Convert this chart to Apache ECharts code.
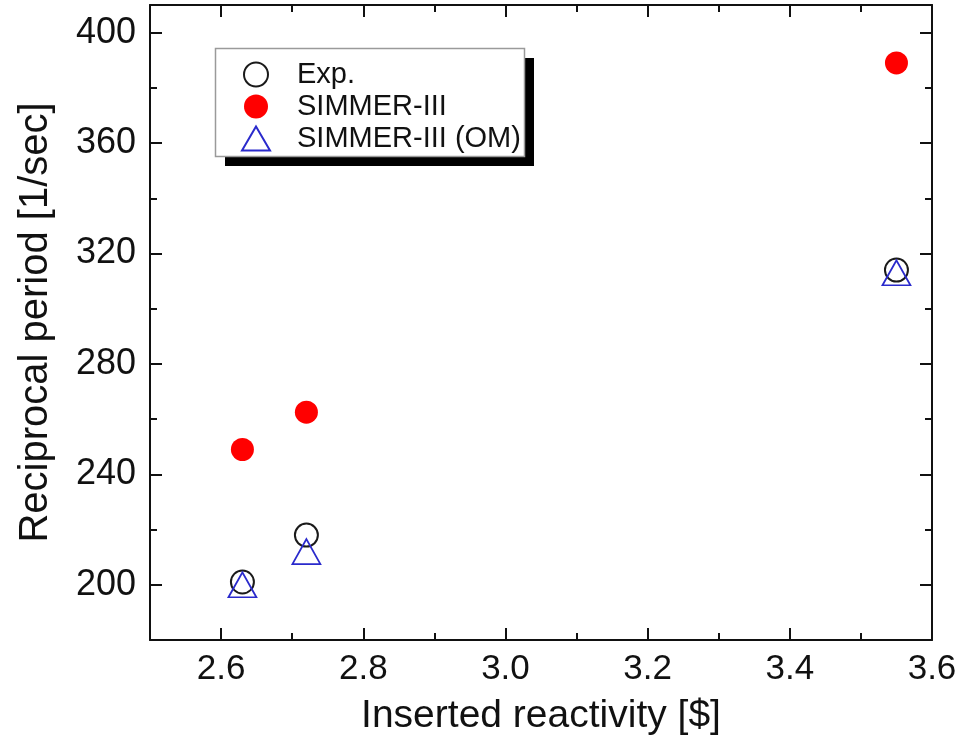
<!DOCTYPE html>
<html>
<head>
<meta charset="utf-8">
<script src="https://cdn.jsdelivr.net/npm/echarts@6/dist/echarts.min.js"></script>
<style>
html,body{margin:0;padding:0;background:#fff;}
#chart{width:972px;height:741px;}
</style>
</head>
<body>
<div id="chart"></div>
<script>
// ---- data ----
const reactivity = [2.63, 2.72, 3.55];
const expValues = [201, 218, 314];
const simmerValues = [249, 262.5, 389];
const omValues = [200, 212, 313];
const seriesNames = ['Exp.', 'SIMMER-III', 'SIMMER-III (OM)'];
const xTickValues = [2.6, 2.8, 3.0, 3.2, 3.4, 3.6];
const xMinorValues = [2.7, 2.9, 3.1, 3.3, 3.5];
const yTickValues = [200, 240, 280, 320, 360, 400];
const yMinorValues = [220, 260, 300, 340, 380];
const xTitle = 'Inserted reactivity [$]';
const yTitle = 'Reciprocal period [1/sec]';

const FONT = '"Liberation Sans", Arial, sans-serif';
const X_MIN = 2.5, X_MAX = 3.6, Y_MIN = 180, Y_MAX = 410;

function pairs(xs, ys) { return xs.map((x, i) => [x, ys[i]]); }

const lineStyle = { color: '#111', width: 2 };

function xAxisDef(pos, values, len, opts) {
  return Object.assign({
    type: 'value', position: pos, min: X_MIN, max: X_MAX,
    splitLine: { show: false },
    axisLine: { show: false, lineStyle: lineStyle },
    axisTick: { show: true, inside: true, length: len, customValues: values, lineStyle: { color: '#111', width: 2 } },
    axisLabel: { show: false }
  }, opts || {});
}
function yAxisDef(pos, values, len, opts) {
  return Object.assign({
    type: 'value', position: pos, min: Y_MIN, max: Y_MAX,
    splitLine: { show: false },
    axisLine: { show: false, lineStyle: lineStyle },
    axisTick: { show: true, inside: true, length: len, customValues: values, lineStyle: { color: '#111', width: 2 } },
    axisLabel: { show: false }
  }, opts || {});
}

const chart = echarts.init(document.getElementById('chart'));
chart.setOption({
  animation: false,
  backgroundColor: '#fff',
  grid: { left: 150, right: 40, top: 5, bottom: 100, containLabel: false },
  graphic: [
    { type: 'rect', z: 50, silent: true, shape: { x: 225, y: 58, width: 309, height: 108 }, style: { fill: '#000' } },
    { type: 'rect', z: 51, silent: true, shape: { x: 215.5, y: 48.5, width: 309, height: 108 }, style: { fill: '#fff', stroke: '#9a9a9a', lineWidth: 1.5 } }
  ],
  xAxis: [
    xAxisDef('bottom', xTickValues, 12, {
      axisLine: { show: true, onZero: false, lineStyle: lineStyle },
      axisLabel: { show: true, customValues: xTickValues, margin: 12, color: '#111', fontFamily: FONT, fontSize: 35,
        formatter: v => v.toFixed(1) },
      name: xTitle, nameLocation: 'middle', nameGap: 57,
      nameTextStyle: { color: '#111', fontFamily: FONT, fontSize: 39 }
    }),
    xAxisDef('bottom', xMinorValues, 7),
    xAxisDef('top', xTickValues, 12, { axisLine: { show: true, onZero: false, lineStyle: lineStyle } }),
    xAxisDef('top', xMinorValues, 7)
  ],
  yAxis: [
    yAxisDef('left', yTickValues, 12, {
      axisLine: { show: true, onZero: false, lineStyle: lineStyle },
      axisLabel: { show: true, customValues: yTickValues, margin: 14, color: '#111', fontFamily: FONT, fontSize: 36 },
      name: yTitle, nameLocation: 'middle', nameGap: 94, nameRotate: 90,
      nameTextStyle: { color: '#111', fontFamily: FONT, fontSize: 40 }
    }),
    yAxisDef('left', yMinorValues, 7),
    yAxisDef('right', yTickValues, 12, { axisLine: { show: true, onZero: false, lineStyle: lineStyle } }),
    yAxisDef('right', yMinorValues, 7)
  ],
  legend: {
    orient: 'vertical',
    left: 241, top: 60,
    padding: 0,
    itemGap: 3,
    itemWidth: 28, itemHeight: 24,
    z: 60,
    textStyle: { color: '#111', fontFamily: FONT, fontSize: 29, padding: [0, 0, 0, 22] },
    data: seriesNames
  },
  series: [
    {
      name: seriesNames[0], type: 'scatter', xAxisIndex: 0, yAxisIndex: 0,
      symbol: 'emptyCircle', symbolSize: 23,
      itemStyle: { color: '#1a1a1a', borderColor: '#1a1a1a', borderWidth: 1.6, opacity: 1 },
      data: pairs(reactivity, expValues), z: 2
    },
    {
      name: seriesNames[1], type: 'scatter', xAxisIndex: 0, yAxisIndex: 0,
      symbol: 'circle', symbolSize: 23,
      itemStyle: { color: '#ff0000', opacity: 1 },
      data: pairs(reactivity, simmerValues), z: 3
    },
    {
      name: seriesNames[2], type: 'scatter', xAxisIndex: 0, yAxisIndex: 0,
      symbol: 'triangle', symbolSize: [28, 25],
      itemStyle: { color: 'rgba(0,0,0,0)', borderColor: '#2a2acc', borderWidth: 1.7, opacity: 1 },
      data: pairs(reactivity, omValues), z: 4
    }
  ]
});
</script>
</body>
</html>
